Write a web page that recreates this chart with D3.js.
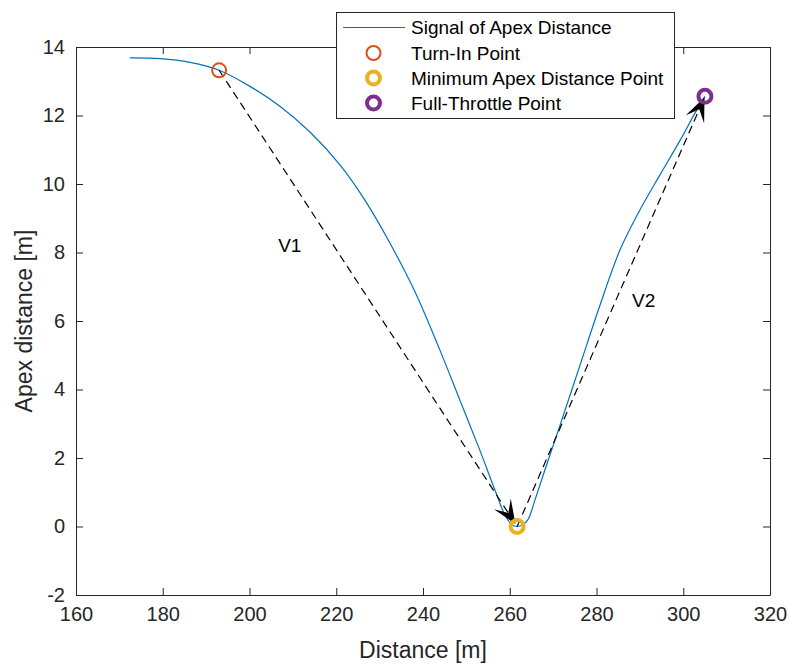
<!DOCTYPE html>
<html>
<head>
<meta charset="utf-8">
<script src="https://cdn.jsdelivr.net/npm/d3@7"></script>
<style>
  body { margin: 0; background: #fff; }
  text { font-family: "Liberation Sans", Arial, sans-serif; fill: #262626; }
</style>
</head>
<body>
<div id="container"></div>
<script>
/* DATA */
const curveDist = [172.4, 179.4, 186.3, 193.0, 200.1, 207.0, 214.0, 220.9, 226.6, 232.4, 238.2, 243.9,
  248.5, 253.1, 256.6, 258.9, 260.5, 261.7, 263.0, 264.2, 265.8, 268.1, 271.6, 276.2, 280.8, 285.4,
  290.0, 294.6, 299.3, 302.7, 305.0];
const curveApex = [13.68, 13.66, 13.55, 13.32, 12.85, 12.27, 11.51, 10.55, 9.53, 8.27, 6.84, 5.15,
  3.69, 2.23, 1.06, 0.33, 0.05, 0.0, 0.05, 0.2, 0.77, 1.65, 2.96, 4.71, 6.46, 8.07,
  9.24, 10.26, 11.28, 12.07, 12.56];

const pointNames = ["Turn-In Point", "Minimum Apex Distance Point", "Full-Throttle Point"];
const pointDist = [193.0, 261.7, 305.0];
const pointApex = [13.32, 0.0, 12.56];
const pointColors = ["#D95319", "#EDB120", "#7E2F8E"];
const pointStroke = [2, 4, 4];

const vectorLabels = ["V1", "V2"];
const vectorLabelDist = [206.6, 288.2];
const vectorLabelApex = [8.2, 6.6];

const xTickValues = [160, 180, 200, 220, 240, 260, 280, 300, 320];
const yTickValues = [-2, 0, 2, 4, 6, 8, 10, 12, 14];

/* CONSTANTS */
const width = 790, height = 666;
const margin = { top: 47, right: 20, bottom: 71, left: 76 };
const axisColor = "#262626";

const svg = d3.select("#container")
  .append("svg")
  .attr("width", width)
  .attr("height", height);

/* SCALES */
const xScale = d3.scaleLinear()
  .domain([160, 320])
  .range([margin.left, width - margin.right]);
const yScale = d3.scaleLinear()
  .domain([-2, 14])
  .range([height - margin.bottom, margin.top]);

/* AXES (MATLAB style box with inward ticks) */
const tickLen = 7;
const fmt = d => String(d);
const x0 = xScale.range()[0], x1 = xScale.range()[1];
const y0 = yScale.range()[0], y1 = yScale.range()[1];

svg.append("g")
  .attr("transform", `translate(0,${y0})`)
  .call(d3.axisBottom(xScale).tickValues(xTickValues).tickFormat(fmt).tickSizeInner(-tickLen).tickSizeOuter(0).tickPadding(12))
  .call(g => g.selectAll("text").attr("font-size", 20).attr("fill", axisColor))
  .call(g => g.selectAll("line,path").attr("stroke", axisColor));
svg.append("g")
  .attr("transform", `translate(0,${y1})`)
  .call(d3.axisTop(xScale).tickValues(xTickValues).tickSizeInner(-tickLen).tickSizeOuter(0).tickFormat(""))
  .call(g => g.selectAll("line,path").attr("stroke", axisColor));
svg.append("g")
  .attr("transform", `translate(${x0},0)`)
  .call(d3.axisLeft(yScale).tickValues(yTickValues).tickFormat(fmt).tickSizeInner(-tickLen).tickSizeOuter(0).tickPadding(11))
  .call(g => g.selectAll("text").attr("font-size", 20).attr("fill", axisColor))
  .call(g => g.selectAll("line,path").attr("stroke", axisColor));
svg.append("g")
  .attr("transform", `translate(${x1},0)`)
  .call(d3.axisRight(yScale).tickValues(yTickValues).tickSizeInner(-tickLen).tickSizeOuter(0).tickFormat(""))
  .call(g => g.selectAll("line,path").attr("stroke", axisColor));
svg.selectAll(".domain").attr("stroke-width", 1);

// axis labels
svg.append("text")
  .attr("x", (x0 + x1) / 2)
  .attr("y", 658)
  .attr("text-anchor", "middle")
  .attr("font-size", 23)
  .text("Distance [m]");
svg.append("text")
  .attr("transform", `translate(32,${(y0 + y1) / 2}) rotate(-90)`)
  .attr("text-anchor", "middle")
  .attr("font-size", 23)
  .text("Apex distance [m]");

/* SIGNAL LINE */
const line = d3.line()
  .x((d, i) => xScale(curveDist[i]))
  .y(d => yScale(d))
  .curve(d3.curveCatmullRom);
svg.append("path")
  .attr("d", line(curveApex))
  .attr("fill", "none")
  .attr("stroke", "#0072BD")
  .attr("stroke-width", 1.2);

/* ARROWS */
function arrow(ax, ay, bx, by) {
  const g = svg.append("g");
  const ang = Math.atan2(by - ay, bx - ax);
  const headLen = 24, headW = 10, notch = 13;
  const ux = Math.cos(ang), uy = Math.sin(ang);
  const px = -uy, py = ux;
  g.append("line")
    .attr("x1", ax).attr("y1", ay)
    .attr("x2", bx - ux * notch).attr("y2", by - uy * notch)
    .attr("stroke", "#000")
    .attr("stroke-width", 1.2)
    .attr("stroke-dasharray", "8,5");
  const pts = [
    [bx, by],
    [bx - ux * headLen + px * headW, by - uy * headLen + py * headW],
    [bx - ux * notch, by - uy * notch],
    [bx - ux * headLen - px * headW, by - uy * headLen - py * headW]
  ];
  g.append("polygon")
    .attr("points", pts.map(p => p.join(",")).join(" "))
    .attr("fill", "#000");
}
for (let i = 0; i < pointDist.length - 1; i++) {
  const ax = xScale(pointDist[i]), ay = yScale(pointApex[i]);
  const bx = xScale(pointDist[i + 1]), by = yScale(pointApex[i + 1]);
  const d = Math.hypot(bx - ax, by - ay);
  const shrink = i === 0 ? 3 : 1;
  arrow(ax, ay, bx - (bx - ax) / d * shrink, by - (by - ay) / d * shrink);
}

/* KEY POINTS */
svg.selectAll(".pt")
  .data(pointDist)
  .join("circle")
  .attr("class", "pt")
  .attr("cx", d => xScale(d))
  .attr("cy", (d, i) => yScale(pointApex[i]))
  .attr("r", (d, i) => i === 0 ? 7 : 6.5)
  .attr("fill", "none")
  .attr("stroke", (d, i) => pointColors[i])
  .attr("stroke-width", (d, i) => pointStroke[i]);

/* V LABELS */
svg.selectAll(".vlab")
  .data(vectorLabels)
  .join("text")
  .attr("class", "vlab")
  .attr("x", (d, i) => xScale(vectorLabelDist[i]))
  .attr("y", (d, i) => yScale(vectorLabelApex[i]))
  .attr("dy", "0.35em")
  .attr("font-size", 19)
  .style("fill", "#000")
  .text(d => d);

/* LEGEND */
const legend = svg.append("g");
legend.append("rect")
  .attr("x", 336.5).attr("y", 12.5)
  .attr("width", 338).attr("height", 106)
  .attr("fill", "#fff")
  .attr("stroke", axisColor)
  .attr("stroke-width", 1);
const rowY = [27.5, 53, 78, 103];
legend.append("line")
  .attr("x1", 343).attr("x2", 405)
  .attr("y1", rowY[0]).attr("y2", rowY[0])
  .attr("stroke", "#0072BD").attr("stroke-width", 1.2);
legend.selectAll(".lm")
  .data(pointNames)
  .join("circle")
  .attr("class", "lm")
  .attr("cx", 373.5)
  .attr("cy", (d, i) => rowY[i + 1])
  .attr("r", (d, i) => i === 0 ? 7 : 6.5)
  .attr("fill", "none")
  .attr("stroke", (d, i) => pointColors[i])
  .attr("stroke-width", (d, i) => pointStroke[i]);
legend.selectAll(".lt")
  .data(["Signal of Apex Distance", ...pointNames])
  .join("text")
  .attr("class", "lt")
  .attr("x", 411)
  .attr("y", (d, i) => rowY[i])
  .attr("dy", "0.35em")
  .attr("font-size", 19)
  .style("fill", "#000")
  .text(d => d);
</script>
</body>
</html>
